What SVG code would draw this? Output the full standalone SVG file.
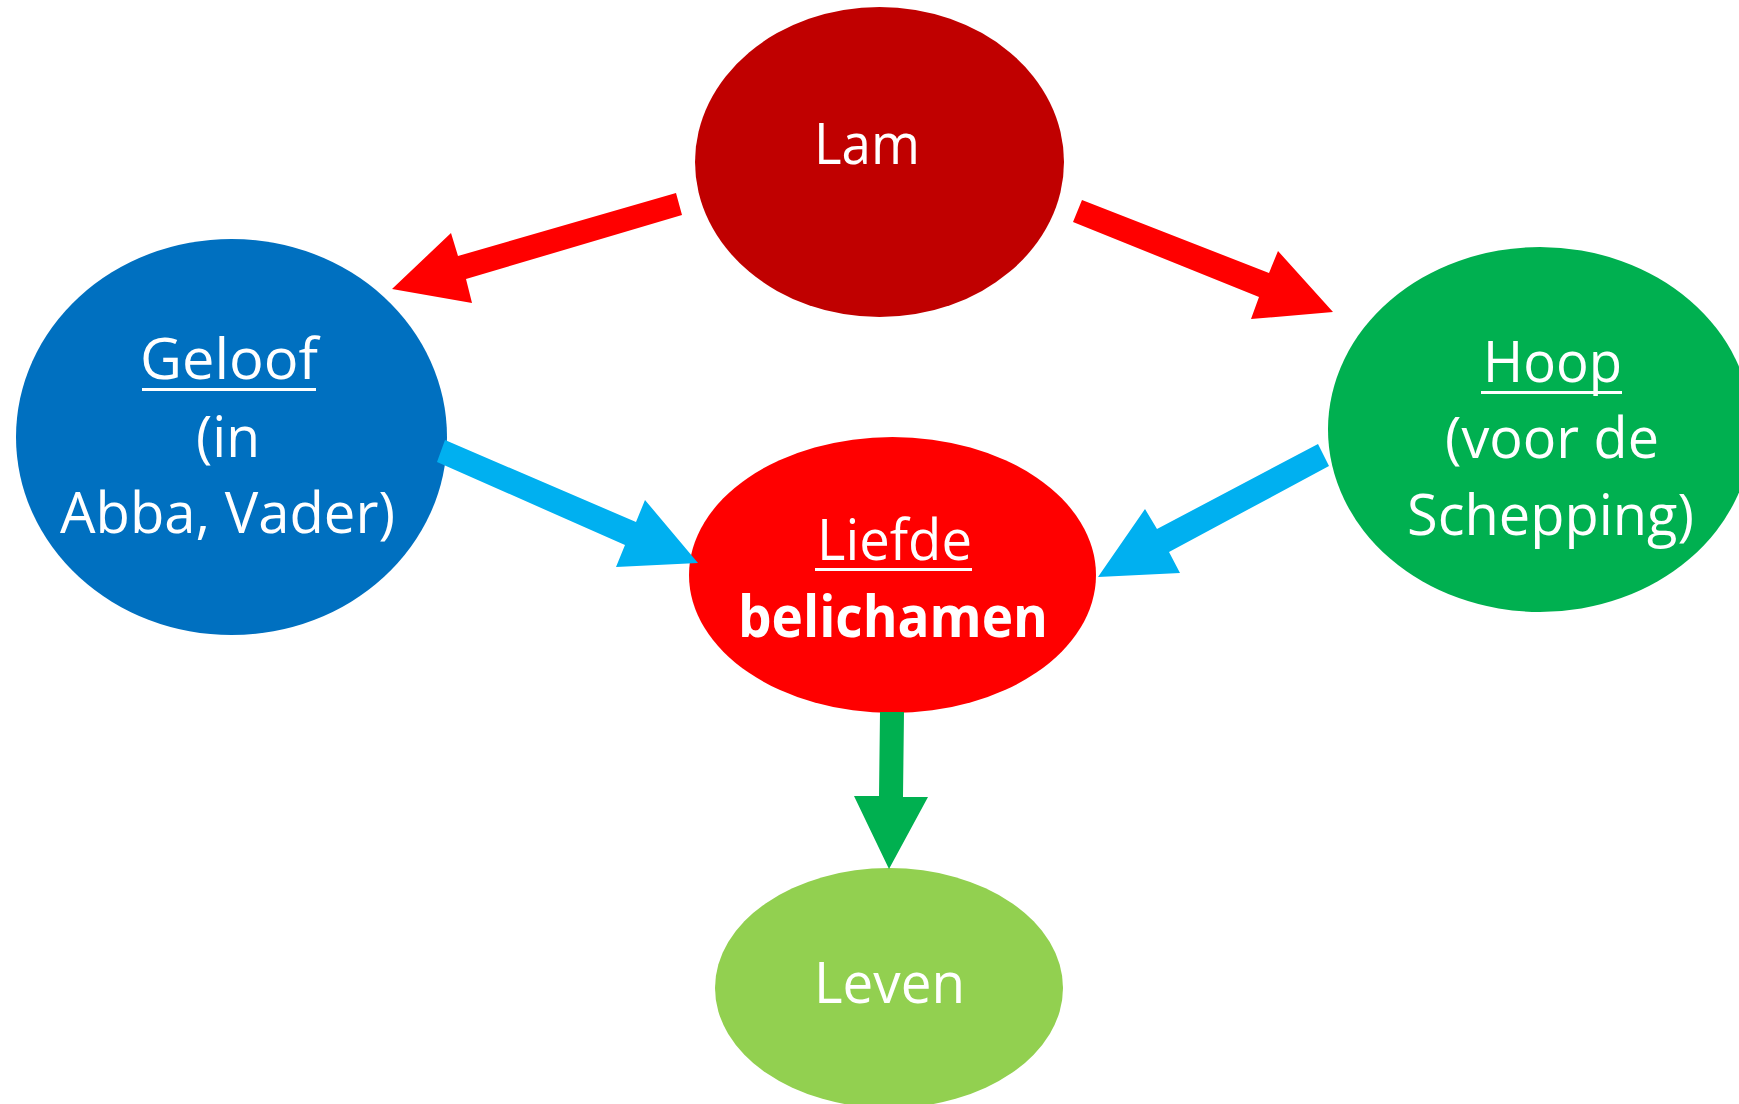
<svg xmlns="http://www.w3.org/2000/svg" width="1739" height="1104" viewBox="0 0 1739 1104">
<style>
.t{font-family:"Open Sans","Liberation Sans",sans-serif;font-size:57px;fill:#fff}
.b{font-weight:bold}
.u{fill:#fff}
.red{fill:#FF0000}
.blue{fill:#00B0F0}
.green{fill:#00B050}
</style>
<rect width="1739" height="1104" fill="#fff"/>
<g id="lam">
<ellipse cx="879.5" cy="162" rx="184.5" ry="155" fill="#C00000"/>
<text class="t" x="814" y="164" textLength="106" lengthAdjust="spacingAndGlyphs">Lam</text>
</g>
<g id="geloof">
<ellipse cx="231.5" cy="437" rx="215.5" ry="198" fill="#0070C0"/>
<text class="t" x="140" y="379" textLength="178" lengthAdjust="spacingAndGlyphs">Geloof</text>
<rect class="u" x="142" y="388" width="174" height="3"/>
<text class="t" x="196" y="457" textLength="64" lengthAdjust="spacingAndGlyphs">(in</text>
<text class="t" x="60" y="533" textLength="335" lengthAdjust="spacingAndGlyphs">Abba, Vader)</text>
</g>
<g id="hoop">
<ellipse cx="1540" cy="429.5" rx="212" ry="182.5" fill="#00B050"/>
<text class="t" x="1483" y="382" textLength="139" lengthAdjust="spacingAndGlyphs">Hoop</text>
<rect class="u" x="1481" y="391" width="141" height="3"/>
<text class="t" x="1445" y="458" textLength="214" lengthAdjust="spacingAndGlyphs">(voor de</text>
<text class="t" x="1407" y="535" textLength="287" lengthAdjust="spacingAndGlyphs">Schepping)</text>
</g>
<g id="liefde">
<ellipse cx="892.5" cy="575" rx="203.5" ry="138" fill="#FF0000"/>
<text class="t" x="817" y="560" textLength="155" lengthAdjust="spacingAndGlyphs">Liefde</text>
<rect class="u" x="815" y="568" width="157" height="3"/>
<text class="t b" x="738" y="637" textLength="310" lengthAdjust="spacingAndGlyphs">belichamen</text>
</g>
<g id="leven">
<ellipse cx="889" cy="988" rx="174" ry="120" fill="#92D050"/>
<text class="t" x="814" y="1003" textLength="151" lengthAdjust="spacingAndGlyphs">Leven</text>
</g>
<g id="connectors">
<polygon class="red" points="676,193 682,215 466,279 472,303 392,289 451,233 458,256"/>
<polygon class="red" points="1082,200 1269,273 1278,251 1333,312 1251,319 1259,297 1073,222"/>
<polygon class="blue" points="445,440 636,522 645,500 698,563 616,567 625,545 437,462"/>
<polygon class="blue" points="1318,444 1329,466 1169,552 1180,573 1098,577 1145,509 1157,529"/>
<polygon class="green" points="880,712 904,712 903,797 928,797 889,869 854,796 879,796"/>
</g>
</svg>
